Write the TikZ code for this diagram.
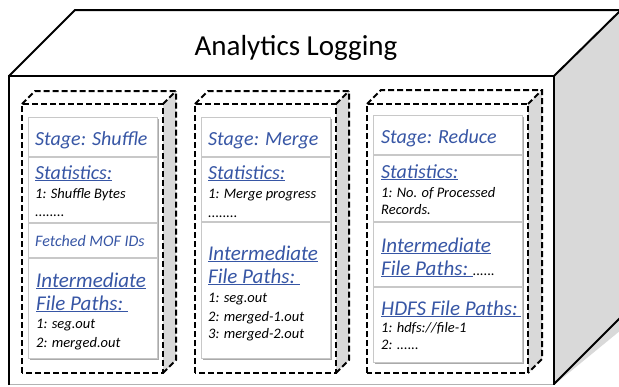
\documentclass[tikz,border=0pt]{standalone}
\usepackage{fontspec}
\setmainfont{Carlito}
\definecolor{hblue}{RGB}{55,86,165}
\definecolor{face}{RGB}{217,217,217}
\definecolor{cardline}{RGB}{200,200,200}
\definecolor{cardshadow}{RGB}{170,170,170}
\begin{document}
\begin{tikzpicture}[x=1pt,y=-1pt,
  outer/.style={line width=2pt, line join=miter, black},
  dbox/.style={line width=2pt, dash pattern=on 6pt off 3pt, black},
  sep/.style={cardline, line width=1.2pt},
  head/.style={anchor=base west, inner sep=0pt, text=hblue, font=\fontsize{20}{24}\selectfont\itshape},
  big/.style={anchor=base west, inner sep=0pt, text=hblue, font=\fontsize{21}{25}\selectfont\itshape},
  mid/.style={anchor=base west, inner sep=0pt, text=hblue, font=\fontsize{16}{19}\selectfont\itshape},
  small/.style={anchor=base west, inner sep=0pt, font=\fontsize{14.5}{17}\selectfont\itshape}
]
\useasboundingbox (0,0) rectangle (619,386);
\begin{scope}
\clip (0,0) rectangle (619,386);
% outer box
\fill[face] (554,76) -- (621,9) -- (621,330) -- (554,385) -- cycle;
\draw[outer] (554,384) -- (622,316);
\draw[gray!60, line width=1pt] (9,384) -- (554,384);
\draw[outer] (9,385) -- (9,76) -- (554,76) -- (554,385);
\draw[outer] (9,76) -- (75,10) -- (622,10);
\draw[outer] (621,10) -- (554,76);
\end{scope}
\node[anchor=base, inner sep=0pt, font=\fontsize{29}{34}\selectfont] (title) at (296,55) {Analytics Logging};

% dashed boxes: front left, front right, depth
\foreach \a/\b/\d in {22/163/13, 195/336/13, 367/528/14}{
  \fill[face] (\b,104) -- ({\b+\d},{104-\d}) -- ({\b+\d},{373-\d}) -- (\b,373) -- cycle;
  \draw[dbox] (\a,373) -- (\a,104) -- (\b,104) -- (\b,373) -- cycle;
  \draw[dbox] (\a,104) -- ({\a+\d},{104-\d}) -- ({\b+\d},{104-\d}) -- ({\b+\d},{373-\d}) -- (\b,373);
  \draw[dbox] (\b,104) -- ({\b+\d},{104-\d});
}

% cards
\foreach \a/\t/\b/\u in {28/117/157/358, 201/117/330/358, 373/115/522/362}{
  \fill[cardshadow] ({\a+1.5},{\t+1.5}) rectangle ({\b+1.5},{\u+2});
  \filldraw[fill=white, draw=cardline, line width=1pt] (\a,\t) rectangle (\b,\u);
}
\draw[sep] (28,157) -- (157,157);
\draw[sep] (28,223) -- (157,223);
\draw[sep] (28,258) -- (157,258);
\draw[sep] (201,157) -- (330,157);
\draw[sep] (201,222) -- (330,222);
\draw[sep] (373,155) -- (522,155);
\draw[sep] (373,222) -- (522,222);
\draw[sep] (373,287) -- (522,287);

% box 1 texts
\node[head] (s1) at (35,145) {Stage: Shuffle};
\node[head] (st1) at (35,179) {\underline{Statistics:}};
\node[small] (st1a) at (35,198) {1: Shuffle Bytes};
\node[small] (st1b) at (35,216) {........};
\node[mid] (f1) at (35,246) {Fetched MOF IDs};
\node[big] (i1a) at (36,287) {\underline{Intermediate}};
\node[big] (i1b) at (36,310) {\underline{File Paths:\ }};
\node[small] (i1c) at (36,328) {1: seg.out};
\node[small] (i1d) at (36,347) {2: merged.out};

% box 2 texts
\node[head] (s2) at (208,145) {Stage: Merge};
\node[head] (st2) at (208,179) {\underline{Statistics:}};
\node[small] (st2a) at (208,198) {1: Merge progress};
\node[small] (st2b) at (208,217) {........};
\node[big] (i2a) at (208,260) {\underline{Intermediate}};
\node[big] (i2b) at (208,283) {\underline{File Paths:\ }};
\node[small] (i2c) at (208,302) {1: seg.out};
\node[small] (i2d) at (208,321) {2: merged-1.out};
\node[small] (i2e) at (208,338) {3: merged-2.out};

% box 3 texts
\node[head] (s3) at (381,143) {Stage: Reduce};
\node[head] (st3) at (381,178) {\underline{Statistics:}};
\node[small] (st3a) at (381,197) {1: No. of Processed};
\node[small] (st3b) at (381,214) {Records.};
\node[big] (i3a) at (381,252) {\underline{Intermediate}};
\node[big] (i3b) at (381,275) {\underline{File Paths:\ }{\color{black}\fontsize{14.5}{17}\selectfont ......}};
\node[big] (h3) at (381,315) {\underline{HDFS File Paths:\,}};
\node[small] (h3a) at (381,332) {1: hdfs://file-1};
\node[small] (h3b) at (381,349) {2: ......};
\end{tikzpicture}
\end{document}
